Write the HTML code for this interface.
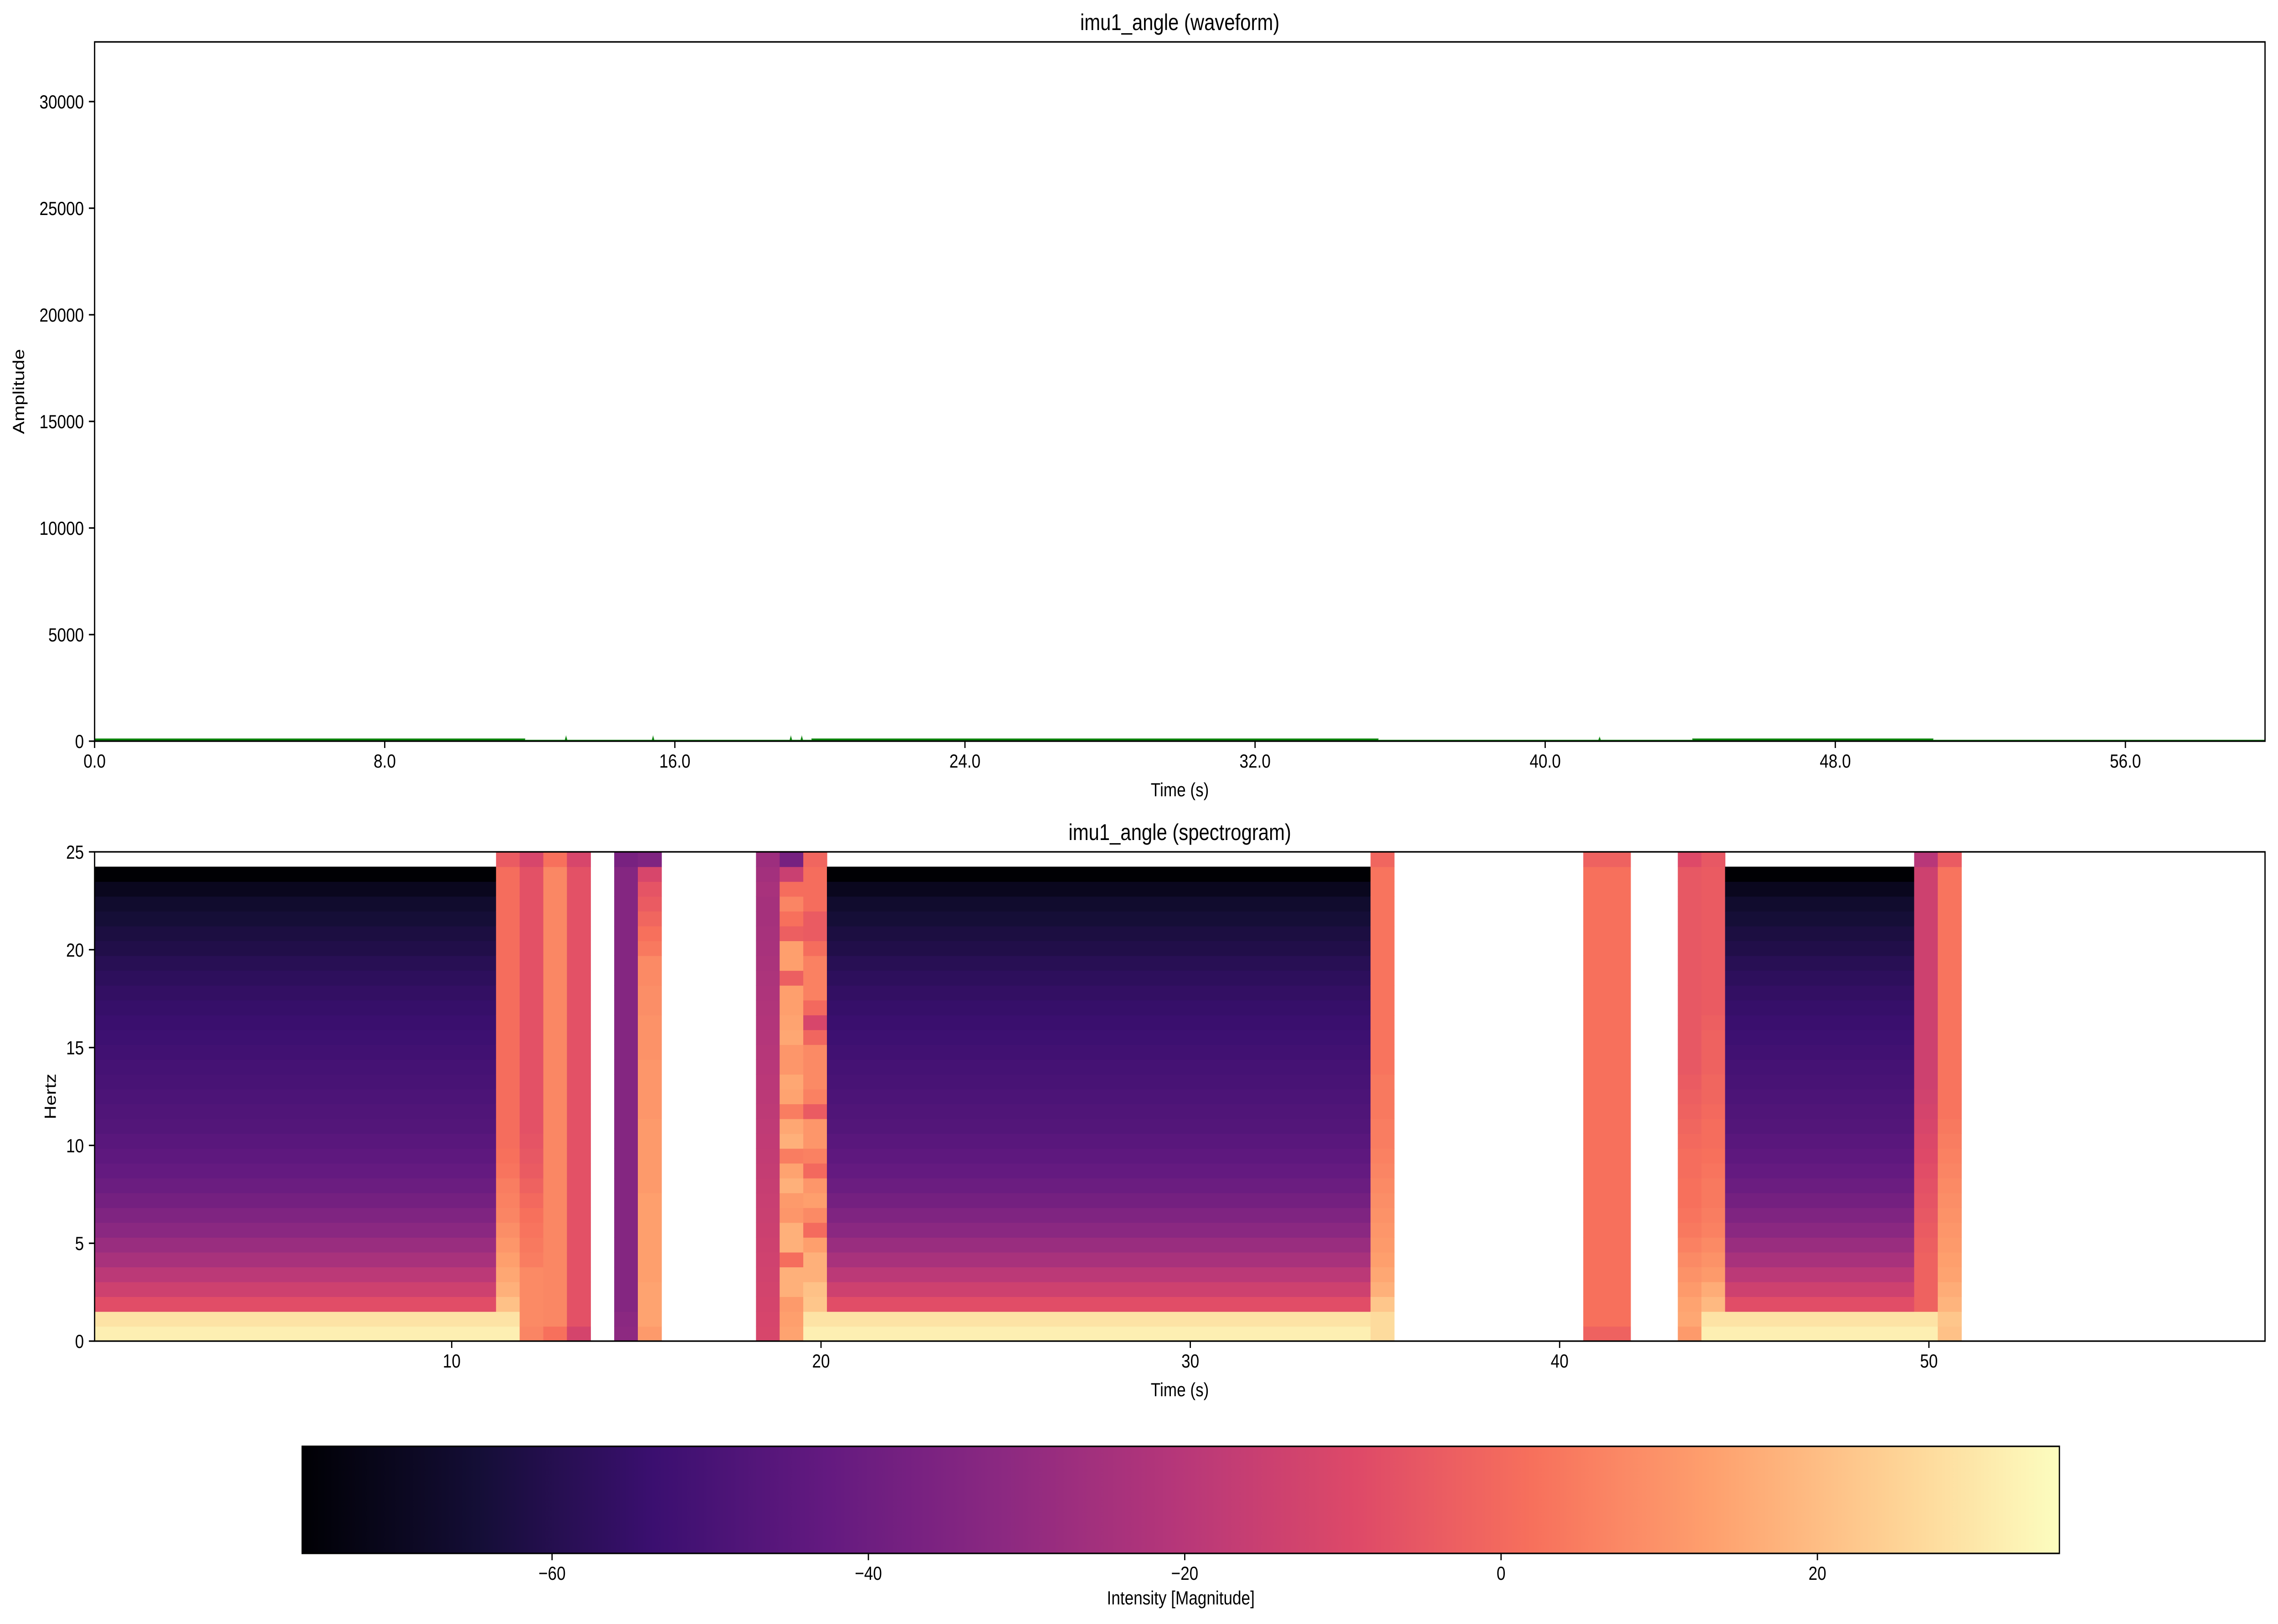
<!DOCTYPE html>
<html><head><meta charset="utf-8"><title>imu1_angle</title>
<style>html,body{margin:0;padding:0;background:#fff;overflow:hidden;width:100%;height:100%;}svg{display:block;width:100vw;height:100vh;font-family:"Liberation Sans","DejaVu Sans",sans-serif;}</style>
</head><body>
<svg id="fig" xmlns="http://www.w3.org/2000/svg" viewBox="0 0 5971 3565" preserveAspectRatio="none">
<rect x="0" y="0" width="5971" height="3565" fill="#fff"/>
<g id="wave"></g>
<g id="spec"></g>
<g id="cbar"></g>
</svg>
<script>
// ---------- data ----------
const waveTicksX = [0, 8, 16, 24, 32, 40, 48, 56];
const waveTickLabelsX = ["0.0", "8.0", "16.0", "24.0", "32.0", "40.0", "48.0", "56.0"];
const waveTicksY = [0, 5000, 10000, 15000, 20000, 25000, 30000];
const waveSegStart = [0, 11.87, 19.77, 35.4, 44.06, 50.7];
const waveSegEnd = [11.87, 19.77, 35.4, 44.06, 50.7, 59.85];
const waveSegAmp = [120, 60, 120, 60, 120, 60];
const waveSpikeT = [13.0, 15.4, 19.2, 19.5, 41.5];
const waveSpikeAmp = [250, 250, 250, 250, 200];

const specTicksX = [10, 20, 30, 40, 50];
const specTicksY = [0, 5, 10, 15, 20, 25];
const cbarTicks = [-60, -40, -20, 0, 20];
const cbarTickLabels = ["\u221260", "\u221240", "\u221220", "0", "20"];

// dB profile of the quiet columns, rows 0 (0 Hz) .. 31; top row empty
const darkProfile = [32, 29, -8, -14, -19, -24, -28, -32, -35, -38, -40.5, -42.5, -44, -45.5, -47, -48, -49, -50, -51, -52, -53, -54, -55, -56, -57.5, -59, -61, -62.5, -64.5, -66.5, -70, -75.8];
const colData = [];
const colTop = [];
for (let i = 0; i < 92; i++) { colData.push(null); colTop.push(null); }
for (let i = 0; i <= 16; i++) colData[i] = "D";
for (let i = 31; i <= 53; i++) colData[i] = "D";
for (let i = 69; i <= 76; i++) colData[i] = "D";
colData[17] = [32, 29, 21, 17, 15, 13, 11, 9, 7, 6, 5, 3, 2, 1]; colTop[17] = -4;
colData[18] = [7, 8, 8, 8, 8, 5, 4, 3, 2, 0, -2, -4, -5, -6, -7]; colTop[18] = -11;
colData[19] = [2, 7.5]; colTop[19] = 2;
colData[20] = [-12, -7]; colTop[20] = -11;
colData[22] = [-31, -32, -33.5]; colTop[22] = -37;
colData[23] = [12, 14, 14, 14, 13, 13, 13, 13, 13, 13, 12, 12, 12, 12, 12, 11, 11, 11, 11, 10, 10, 10, 9, 9, 8, 8, 4, 2, -1, -4, -6, -11]; colTop[23] = -35;
colData[28] = [-11, -11.5, -12, -12.5, -13, -13.5, -14, -14.5, -15, -15.5, -16, -16.5, -17, -17.5, -18, -18.5, -19, -19.5, -20, -20.5, -21, -21.5, -22, -22.5, -23, -23.5, -24, -24.5, -25, -25, -24, -25.5]; colTop[28] = -27;
colData[29] = [14, 13, 12, 17, 17, 1, 17, 17, 11, 12, 17, 14, 5, 17, 15, 5, 14, 15, 11, 11, 15, 14, 13, 13, -3, 13, 13, -3, 2, 7, 1, -15, -3]; colTop[29] = -37.5;
colData[30] = [32, 29, 22, 21, 17, 17, 13, 0.5, 8, 13, 11, 0, 6, 11, 11, -4, 6, 8, 8, 8, -1, -11, 0, 6, 6, 6, 1, -4, -4, 1, 1, 1]; colTop[30] = -1;
colData[54] = [27, 27, 22, 17, 15, 13, 12, 11, 10, 9, 8, 7, 6, 5, 5, 4, 4, 4, 3]; colTop[54] = -1;
colData[63] = [-2, 2]; colTop[63] = -2;
colData[64] = [-2, 2]; colTop[64] = -2;
colData[67] = [12, 15, 14, 12, 10, 8, 6, 4, 3, 2, 2, 1, 1, 0, -1, -2, -3, -4, -5]; colTop[67] = -9;
colData[68] = [32, 29, 19, 16, 12, 10, 8, 6, 5, 4, 4, 3, 2, 1, 1, 0, -1, -1, -2, -2, -2, -3, -4]; colTop[68] = -5;
colData[77] = [32, 29, -2, -2, -2, -2, -3, -4, -5, -6, -7, -8, -9, -10, -11, -12, -13, -14]; colTop[77] = -20;
colData[78] = [21, 22, 18, 16, 14, 13, 12, 11, 10, 9, 8, 7, 6, 5, 4, 3]; colTop[78] = -4;

// ---------- helpers ----------
const NS = "http://www.w3.org/2000/svg";
function mk(tag, attrs, parent) { const e = document.createElementNS(NS, tag); for (const k in attrs) e.setAttribute(k, attrs[k]); parent.appendChild(e); return e; }
const magmaStops = [[0,0,0,4],[0.1,20,14,54],[0.2,59,15,112],[0.3,100,26,128],[0.4,140,41,129],[0.5,183,55,121],[0.6,222,73,104],[0.7,247,112,92],[0.8,254,159,109],[0.9,254,207,146],[1,252,253,191]];
function magma(t) { t = Math.max(0, Math.min(1, t)); for (let i = 1; i < magmaStops.length; i++) { const a = magmaStops[i-1], b = magmaStops[i]; if (t <= b[0]) { const f = (t - a[0]) / (b[0] - a[0]); return "rgb(" + [1,2,3].map(j => Math.round(a[j] + f*(b[j]-a[j]))).join(",") + ")"; } } return "rgb(252,253,191)"; }
const VMIN = -75.8, VMAX = 35.3;
function col(v) { return magma((v - VMIN) / (VMAX - VMIN)); }
const FS = 42, TFS = 50;

// ---------- waveform ----------
const wave = document.getElementById("wave");
const wL = 248, wR = 5937, wT = 92, wB = 1627;
const wx = t => wL + t * (wR - wL) / 59.85;
const wy = a => wB - a * (wB - wT) / 32800;
{
  let pts = [];
  for (let i = 0; i < waveSegStart.length; i++) {
    pts.push([wx(waveSegStart[i]), wy(waveSegAmp[i])]);
    waveSpikeT.forEach((t, j) => { if (t > waveSegStart[i] && t < waveSegEnd[i]) { pts.push([wx(t)-3, wy(waveSegAmp[i])]); pts.push([wx(t), wy(waveSpikeAmp[j])]); pts.push([wx(t)+3, wy(waveSegAmp[i])]); } });
    pts.push([wx(waveSegEnd[i]), wy(waveSegAmp[i])]);
  }
  const d = "M" + wx(0) + "," + wy(0) + " " + pts.map(p => "L" + p[0].toFixed(1) + "," + p[1].toFixed(1)).join(" ") + " L" + wx(59.85) + "," + wy(0) + "Z";
  const p = mk("path", {d: d, fill: "#008000", stroke: "#5aa85a", "stroke-width": 1}, wave);
  
  
}
{
  const fr = mk("rect", {x: wL, y: wT, width: wR - wL, height: wB - wT, fill: "none", stroke: "#000", "stroke-width": 3.3}, wave);
  
  
  waveTicksX.forEach((t, i) => {
    const x = wx(t);
    const tk = mk("line", {x1: x, y1: wB, x2: x, y2: wB + 15, stroke: "#000", "stroke-width": 3.3}, wave);
    
    
    const tx = mk("text", {x: x, y: wB + 58, "font-size": FS, "text-anchor": "middle"}, wave);
    tx.textContent = waveTickLabelsX[i];
    
    
  });
  waveTicksY.forEach(v => {
    const y = wy(v);
    const tk = mk("line", {x1: wL - 15, y1: y, x2: wL, y2: y, stroke: "#000", "stroke-width": 3.3}, wave);
    
    
    const tx = mk("text", {x: wL - 28, y: y + 15, "font-size": FS, "text-anchor": "end"}, wave);
    tx.textContent = String(v);
    
    
  });
  const t1 = mk("text", {x: (wL + wR) / 2, y: 66, "font-size": TFS, "text-anchor": "middle"}, wave);
  t1.textContent = "imu1_angle (waveform)";
  
  
  const xl = mk("text", {x: (wL + wR) / 2, y: 1748, "font-size": FS, "text-anchor": "middle"}, wave);
  xl.textContent = "Time (s)";
  
  
  const yl = mk("text", {x: 0, y: 0, "font-size": FS, "text-anchor": "middle", transform: "translate(63," + ((wT + wB) / 2) + ") rotate(-90)"}, wave);
  yl.textContent = "Amplitude";
  
  
}

// ---------- spectrogram ----------
const spec = document.getElementById("spec");
const sL = 248, sR = 5937, sT = 1870, sB = 2944;
const sx = t => 216 + t * 96.8;
const sy = f => sB - f * (sB - sT) / 25;
const colW = 0.64, rowH = 25 / 33;
for (let c = 0; c < colData.length; c++) {
  const cd = colData[c];
  if (cd === null) continue;
  const t0 = 0.32 + c * colW;
  const x0 = Math.max(sL, sx(t0)), x1 = Math.min(sR, sx(t0 + colW));
  for (let r = 0; r < 33; r++) {
    let v;
    if (r === 32) { v = colTop[c]; if (v === null) continue; }
    else if (cd === "D") v = darkProfile[r];
    else v = cd[Math.min(r, cd.length - 1)];
    const y0 = sy((r + 1) * rowH), y1 = sy(r * rowH);
    const cell = mk("rect", {x: x0.toFixed(1), y: y0.toFixed(1), width: (x1 - x0 + 0.8).toFixed(1), height: (y1 - y0 + 0.8).toFixed(1), fill: col(v)}, spec);
    
    
  }
}
{
  const fr = mk("rect", {x: sL, y: sT, width: sR - sL, height: sB - sT, fill: "none", stroke: "#000", "stroke-width": 3.3}, spec);
  
  
  specTicksX.forEach(t => {
    const x = sx(t);
    const tk = mk("line", {x1: x, y1: sB, x2: x, y2: sB + 15, stroke: "#000", "stroke-width": 3.3}, spec);
    
    
    const tx = mk("text", {x: x, y: sB + 58, "font-size": FS, "text-anchor": "middle"}, spec);
    tx.textContent = String(t);
    
    
  });
  specTicksY.forEach(f => {
    const y = sy(f);
    const tk = mk("line", {x1: sL - 15, y1: y, x2: sL, y2: y, stroke: "#000", "stroke-width": 3.3}, spec);
    
    
    const tx = mk("text", {x: sL - 28, y: y + 15, "font-size": FS, "text-anchor": "end"}, spec);
    tx.textContent = String(f);
    
    
  });
  const t2 = mk("text", {x: (sL + sR) / 2, y: 1844, "font-size": TFS, "text-anchor": "middle"}, spec);
  t2.textContent = "imu1_angle (spectrogram)";
  
  
  const xl = mk("text", {x: (sL + sR) / 2, y: 3065, "font-size": FS, "text-anchor": "middle"}, spec);
  xl.textContent = "Time (s)";
  
  
  const yl = mk("text", {x: 0, y: 0, "font-size": FS, "text-anchor": "middle", transform: "translate(146," + ((sT + sB) / 2) + ") rotate(-90)"}, spec);
  yl.textContent = "Hertz";
  
  
}

// ---------- colorbar ----------
const cbar = document.getElementById("cbar");
const cL = 792, cR = 5398, cT = 3175, cB = 3410;
const cx = v => cL + (v - VMIN) * (cR - cL) / (VMAX - VMIN);
{
  const defs = mk("defs", {}, cbar);
  const lg = mk("linearGradient", {id: "magmaGrad", x1: "0", y1: "0", x2: "1", y2: "0"}, defs);
  for (let i = 0; i <= 40; i++) mk("stop", {offset: (i / 40).toFixed(3), "stop-color": magma(i / 40)}, lg);
  const bar = mk("rect", {x: cL, y: cT, width: cR - cL, height: cB - cT, fill: "url(#magmaGrad)", stroke: "#000", "stroke-width": 3.3}, cbar);
  
  
  cbarTicks.forEach((v, i) => {
    const x = cx(v);
    const tk = mk("line", {x1: x, y1: cB, x2: x, y2: cB + 15, stroke: "#000", "stroke-width": 3.3}, cbar);
    
    
    const tx = mk("text", {x: x, y: cB + 58, "font-size": FS, "text-anchor": "middle"}, cbar);
    tx.textContent = cbarTickLabels[i];
    
    
  });
  const lb = mk("text", {x: (cL + cR) / 2, y: 3522, "font-size": FS, "text-anchor": "middle"}, cbar);
  lb.textContent = "Intensity [Magnitude]";
  
  
}
</script>
</body></html>
